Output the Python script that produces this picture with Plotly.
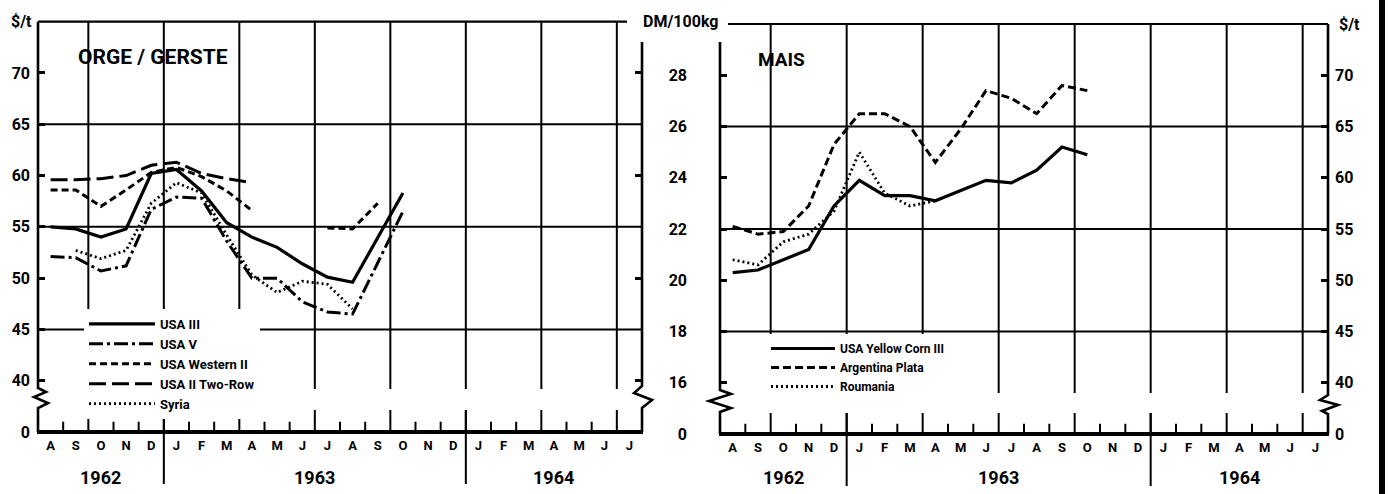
import plotly.graph_objects as go

# ---------------- data ----------------
month_labels = ["A", "S", "O", "N", "D", "J", "F", "M", "A", "M", "J", "J",
                "A", "S", "O", "N", "D", "J", "F", "M", "A", "M", "J", "J"]
years = ["1962", "1963", "1964"]
year_centers = [2.5, 11.0, 20.5]      # in month units from Aug 1962

# Barley, $/t, monthly from Aug 1962
usa_iii = [55.0, 54.8, 54.0, 54.8, 60.2, 60.6, 58.5, 55.4, 54.0, 53.0, 51.4, 50.1, 49.6, 53.9, 58.3]
usa_v = [52.1, 52.0, 50.7, 51.2, 56.7, 57.9, 57.8, 53.6, 50.0, 50.0, 47.7, 46.7, 46.5, 51.5, 56.5]
usa_western_ii = [58.6, 58.6, 57.0, 58.6, 60.3, 60.8, 59.9, 58.5, 56.6, None, None, 54.9, 54.8, 57.3]
usa_ii_two_row = [59.6, 59.6, 59.7, 60.0, 61.0, 61.3, 60.2, 59.7, 59.3]
syria = [None, 52.7, 51.9, 52.7, 57.3, 59.3, 58.3, 54.2, 50.3, 48.6, 49.7, 49.4, 47.0]

# Maize, DM/100kg, monthly from Aug 1962
yellow_corn = [20.3, 20.4, 20.8, 21.2, 22.9, 23.9, 23.3, 23.3, 23.1, 23.5, 23.9, 23.8, 24.3, 25.2, 24.9]
argentina = [22.1, 21.8, 21.9, 22.9, 25.3, 26.5, 26.5, 26.0, 24.6, 25.9, 27.4, 27.1, 26.5, 27.6, 27.4]
roumania = [20.8, 20.6, 21.5, 21.8, 22.7, 25.0, 23.4, 22.9, 23.1]

usd_ticks = [35, 40, 45, 50, 55, 60, 65, 70]
usd_ticktext = ["0", "40", "45", "50", "55", "60", "65", "70"]
dm_ticks = [14, 16, 18, 20, 22, 24, 26, 28]
dm_ticktext = ["0", "16", "18", "20", "22", "24", "26", "28"]

# ---------------- geometry ----------------
W, H = 1388, 494
FONT = "Roboto, DejaVu Sans, sans-serif"


def px(x):
    return x / W


def py(y):
    return 1 - y / H


LX0, LX1, LYT, LYB = 38, 642, 21.7, 432
RX0, RX1, RYT, RYB = 720, 1328, 24, 434


def mx(v):
    return [i + 0.5 for i in range(len(v))]


fig = go.Figure()

left_series = [
    ("USA III", usa_iii, "solid", 3.2),
    ("USA V", usa_v, "14px,4px,3px,4px", 3),
    ("USA Western II", usa_western_ii, "7px,4px", 3),
    ("USA II Two-Row", usa_ii_two_row, "17px,6px", 3),
    ("Syria", syria, "2px,3px", 2.8),
]
for name, vals, dash, w in left_series:
    fig.add_trace(go.Scatter(x=mx(vals), y=vals, name=name, mode="lines",
                             line=dict(color="black", width=w, dash=dash),
                             connectgaps=False, xaxis="x", yaxis="y",
                             legend="legend", hoverinfo="skip"))

right_series = [
    ("USA Yellow Corn III", yellow_corn, "solid", 3.2),
    ("Argentina Plata", argentina, "8px,4px", 3),
    ("Roumania", roumania, "2px,3px", 2.8),
]
for name, vals, dash, w in right_series:
    fig.add_trace(go.Scatter(x=mx(vals), y=vals, name=name, mode="lines",
                             line=dict(color="black", width=w, dash=dash),
                             xaxis="x2", yaxis="y2", legend="legend2",
                             hoverinfo="skip"))

shapes = []


def seg(x0, y0, x1, y1, w=2, xref="paper", yref="paper", layer="below"):
    shapes.append(dict(type="line", x0=x0, y0=y0, x1=x1, y1=y1, xref=xref, yref=yref,
                       line=dict(color="black", width=w), layer=layer))


def path(points, w=2.5):
    d = "M " + " L ".join(f"{px(a):.5f},{py(b):.5f}" for a, b in points)
    shapes.append(dict(type="path", path=d, xref="paper", yref="paper",
                       line=dict(color="black", width=w), layer="above"))


grid_months = [2, 5, 8, 11, 14, 17, 20, 23]
year_months = [5, 17]

# ---- left panel ----
for v in [45, 55, 65]:
    seg(0, v, 24, v, 2, "x", "y")
for k in grid_months:
    seg(k, 39.2, k, 75, 2, "x", "y")
    seg(k, 35, k, 37.15, 2, "x", "y")
for k in range(1, 24):
    if k not in grid_months:
        seg(k, 35, k, 36.0, 2, "x", "y")
lspan = (LX1 - LX0) / 24
for k in year_months:
    seg(px(LX0 + k * lspan), py(410), px(LX0 + k * lspan), py(484), 2)
seg(px(LX0), py(LYT), px(627), py(LYT), 2.2)
seg(px(LX0 - 1), py(LYB), px(LX1 + 1), py(LYB), 4)
path([(LX0, LYT), (LX0, 388), (46, 392), (34, 397), (48, 403), (LX0, 408), (LX0, LYB)], 2.6)
path([(LX1, 42), (LX1, 386), (634, 393), (652, 400), (LX1, 408), (LX1, LYB)], 2.6)

# ---- right panel ----
for v in [18, 22, 26]:
    seg(0, v, 24, v, 2, "x2", "y2")
for k in grid_months:
    seg(k, 15.6, k, 30, 2, "x2", "y2")
    seg(k, 14, k, 14.82, 2, "x2", "y2")
for k in range(1, 24):
    if k not in grid_months:
        seg(k, 14, k, 14.4, 2, "x2", "y2")
rspan = (RX1 - RX0) / 24
for k in year_months:
    seg(px(RX0 + k * rspan), py(413), px(RX0 + k * rspan), py(486), 2)
seg(px(728), py(RYT), px(RX1), py(RYT), 2.2)
seg(px(RX0 - 1), py(RYB), px(RX1 + 1), py(RYB), 4)
path([(RX0, 42), (RX0, 390), (731, 394), (709, 401), (731, 408), (RX0, 412), (RX0, RYB)], 2.6)
path([(RX1, RYT), (RX1, 395), (1320, 400), (1338, 405), (1322, 411), (RX1, 414), (RX1, RYB)], 2.6)

# scan edge bar on the far right
shapes.append(dict(type="rect", x0=px(1379), x1=px(1385), y0=0, y1=1, xref="paper", yref="paper",
                   fillcolor="black", line=dict(width=0), layer="above"))

tickfont = dict(family=FONT, size=16, color="black", weight="bold")
monthfont = dict(family=FONT, size=13, color="black", weight="bold")

common_x = dict(range=[0, 24], showgrid=False, zeroline=False, showline=False, ticks="",
                tickvals=[i + 0.5 for i in range(24)], ticktext=month_labels,
                tickfont=monthfont, ticklabelstandoff=4, fixedrange=True, automargin=False)

fig.update_layout(
    width=W, height=H, autosize=False,
    margin=dict(l=0, r=0, t=0, b=0, pad=0, autoexpand=False),
    paper_bgcolor="white", plot_bgcolor="rgba(0,0,0,0)",
    xaxis=dict(domain=[px(LX0), px(LX1)], anchor="y", **common_x),
    xaxis2=dict(domain=[px(RX0), px(RX1)], anchor="y2", **common_x),
    yaxis=dict(domain=[py(LYB), py(LYT)], range=[35, 75], anchor="x",
               tickvals=usd_ticks, ticktext=usd_ticktext, ticks="inside", ticklen=7,
               tickwidth=2.5, tickcolor="black", showgrid=False, zeroline=False,
               showline=False, tickfont=tickfont, ticklabelstandoff=7,
               automargin=False, fixedrange=True),
    yaxis3=dict(overlaying="y", side="right", anchor="x", range=[35, 75],
                tickvals=[40, 50, 60, 70], ticks="inside", ticklen=7, tickwidth=2.5,
                tickcolor="black", showticklabels=False, showgrid=False,
                zeroline=False, showline=False, automargin=False, fixedrange=True),
    yaxis2=dict(domain=[py(RYB), py(RYT)], range=[14, 30], anchor="x2",
                tickvals=dm_ticks, ticktext=dm_ticktext, ticks="inside", ticklen=7,
                tickwidth=2.5, tickcolor="black", showgrid=False, zeroline=False,
                showline=False, tickfont=tickfont, ticklabelstandoff=32,
                automargin=False, fixedrange=True),
    yaxis4=dict(overlaying="y2", side="right", anchor="x2", range=[35, 75],
                tickvals=usd_ticks, ticktext=usd_ticktext, ticks="inside", ticklen=7,
                tickwidth=2.5, tickcolor="black", showgrid=False, zeroline=False,
                showline=False, tickfont=tickfont, ticklabelstandoff=6,
                automargin=False, fixedrange=True),
    legend=dict(x=px(84), y=py(309), xanchor="left", yanchor="top", bgcolor="white",
                borderwidth=0, itemwidth=66, tracegroupgap=0,
                font=dict(family=FONT, size=13, color="black", weight="bold")),
    legend2=dict(x=px(766), y=py(334), xanchor="left", yanchor="top", bgcolor="white",
                 borderwidth=0, itemwidth=64, tracegroupgap=0,
                 font=dict(family=FONT, size=12, color="black", weight="bold")),
    shapes=shapes,
    showlegend=True,
)

# invisible traces to activate the mirror axes
fig.add_trace(go.Scatter(x=[None], y=[None], xaxis="x", yaxis="y3", showlegend=False, hoverinfo="skip"))
fig.add_trace(go.Scatter(x=[None], y=[None], xaxis="x2", yaxis="y4", showlegend=False, hoverinfo="skip"))

ann = []


def text(t, x, y, size, xref="paper", yref="paper"):
    ann.append(dict(text=t, x=x, y=y, xref=xref, yref=yref, showarrow=False,
                    xanchor="center", yanchor="middle",
                    font=dict(family=FONT, size=size, color="black", weight="bold")))


text("$/t", px(21.5), py(21.5), 16)
text("ORGE / GERSTE", px(153), py(57), 21)
text("DM/100kg", px(680), py(22), 16)
text("MAIS", px(781), py(59.5), 19)
text("$/t", px(1349), py(25), 16)
for yr, c in zip(years, year_centers):
    text(yr, c, py(477), 18, xref="x", yref="paper")
    text(yr, c, py(477), 18, xref="x2", yref="paper")
fig.update_layout(annotations=ann)

fig.write_html("out.html", config={"displayModeBar": False},
               post_script="document.body.style.margin='0';"
                           "document.documentElement.style.overflow='hidden';")
